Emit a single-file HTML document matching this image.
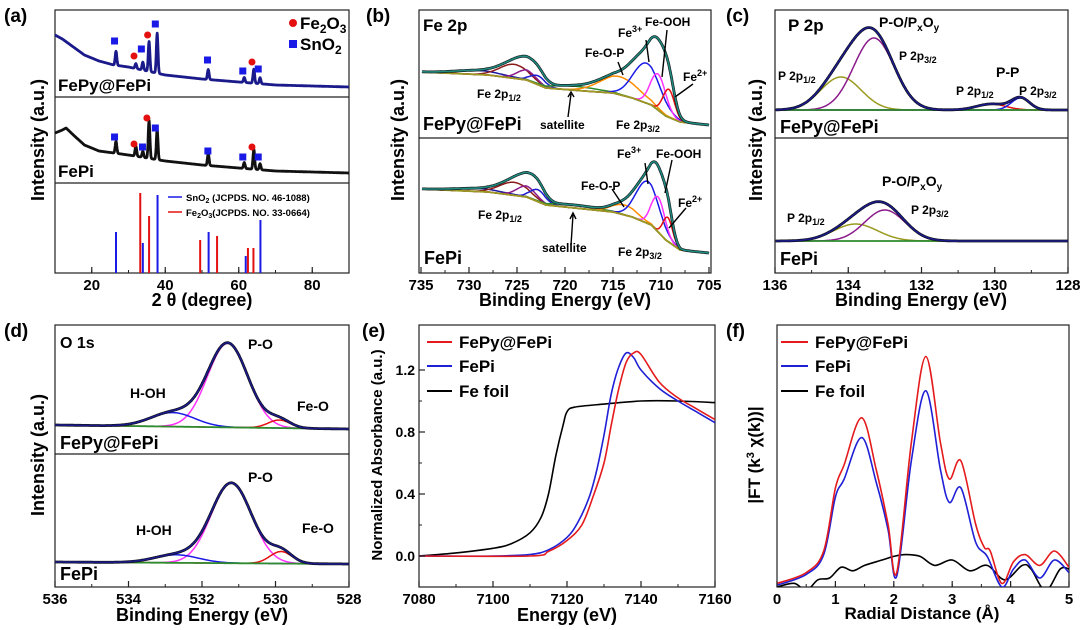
<!DOCTYPE html>
<html><head><meta charset="utf-8"><style>
html,body{margin:0;padding:0;background:#fff}
svg{display:block;font-family:"Liberation Sans",sans-serif;font-weight:bold}
</style></head><body>
<svg id="fig" width="1080" height="630" viewBox="0 0 1080 630">
<rect width="1080" height="630" fill="#fff"/>
<g font-size="19">
<text x="4" y="22">(a)</text>
<text x="366" y="22">(b)</text>
<text x="726" y="22">(c)</text>
<text x="4" y="337">(d)</text>
<text x="362" y="337">(e)</text>
<text x="726" y="337">(f)</text>
</g>
<g fill="none" stroke="#222" stroke-width="1.2">
<rect x="55" y="10" width="294" height="263"/>
<line x1="55" y1="97" x2="349" y2="97"/>
<line x1="55" y1="183" x2="349" y2="183"/>
<rect x="419" y="10" width="292" height="263"/>
<line x1="419" y1="138" x2="711" y2="138"/>
<rect x="775" y="10" width="293" height="263"/>
<line x1="775" y1="138" x2="1068" y2="138"/>
<rect x="55" y="325" width="294" height="262"/>
<line x1="55" y1="454" x2="349" y2="454"/>
<rect x="419" y="325" width="296" height="262"/>
<rect x="777" y="325" width="292" height="262"/>
</g>
<g id="marks"></g>
<g font-size="18" text-anchor="middle">
<text x="202" y="306">2 θ (degree)</text>
<text x="565" y="306">Binding Energy (eV)</text>
<text x="921" y="306">Binding Energy (eV)</text>
<text x="202" y="621">Binding Energy (eV)</text>
<text x="567" y="621">Energy (eV)</text>
<text x="922" y="619" font-size="17">Radial Distance (Å)</text>
<text transform="translate(44,140) rotate(-90)">Intensity (a.u.)</text>
<text transform="translate(404,140) rotate(-90)">Intensity (a.u.)</text>
<text transform="translate(762,140) rotate(-90)">Intensity (a.u.)</text>
<text transform="translate(44,455) rotate(-90)">Intensity (a.u.)</text>
<text transform="translate(382,455) rotate(-90)" font-size="15">Normalized Absorbance (a.u.)</text>
<text transform="translate(760,455) rotate(-90)" font-size="17">|FT (k<tspan font-size="11" dy="-6">3</tspan><tspan dy="6"> χ(k))|</tspan></text>
</g>
<g font-size="17">
<text x="58" y="91">FePy@FePi</text>
<text x="58" y="177">FePi</text>
<circle cx="293" cy="23" r="4" fill="#e41010"/>
<text x="300" y="29">Fe<tspan font-size="12" dy="4">2</tspan><tspan dy="-4">O</tspan><tspan font-size="12" dy="4">3</tspan></text>
<rect x="289" y="40" width="8" height="8" fill="#1a1ae6"/>
<text x="300" y="50">SnO<tspan font-size="12" dy="4">2</tspan></text>
</g>
<g font-size="9.5">
<line x1="168" y1="197" x2="182" y2="197" stroke="#1a1ae6" stroke-width="1.5"/>
<text x="186" y="201">SnO<tspan font-size="7" dy="2">2</tspan><tspan dy="-2"> (JCPDS. NO. 46-1088)</tspan></text>
<line x1="168" y1="212" x2="182" y2="212" stroke="#e41010" stroke-width="1.5"/>
<text x="186" y="216">Fe<tspan font-size="7" dy="2">2</tspan><tspan dy="-2">O</tspan><tspan font-size="7" dy="2">3</tspan><tspan dy="-2">(JCPDS. NO. 33-0664)</tspan></text>
</g>
<g font-size="12">
<text x="423" y="31" font-size="17">Fe 2p</text>
<text x="423" y="130" font-size="18">FePy@FePi</text>
<text x="424" y="264" font-size="18">FePi</text>
<text x="477" y="98">Fe 2p<tspan font-size="9" dy="3">1/2</tspan></text>
<text x="540" y="129">satellite</text>
<text x="616" y="129">Fe 2p<tspan font-size="9" dy="3">3/2</tspan></text>
<text x="585" y="57">Fe-O-P</text>
<text x="618" y="37">Fe<tspan font-size="9" dy="-5">3+</tspan></text>
<text x="645" y="26">Fe-OOH</text>
<text x="683" y="81">Fe<tspan font-size="9" dy="-5">2+</tspan></text>
<text x="478" y="219">Fe 2p<tspan font-size="9" dy="3">1/2</tspan></text>
<text x="542" y="252">satellite</text>
<text x="618" y="256">Fe 2p<tspan font-size="9" dy="3">3/2</tspan></text>
<text x="581" y="190">Fe-O-P</text>
<text x="617" y="158">Fe<tspan font-size="9" dy="-5">3+</tspan></text>
<text x="656" y="158">Fe-OOH</text>
<text x="678" y="207">Fe<tspan font-size="9" dy="-5">2+</tspan></text>
</g>
<g stroke="#000" stroke-width="1.4" fill="none">
<path d="M568,117 L571,94 M568,97 L571,92 L574,97"/>
<path d="M618,62 L623,75"/><path d="M646,40 L649,62"/><path d="M667,30 L662,77"/><path d="M693,84 L675,97"/>
<path d="M571,245 L573,215 M570,219 L573,213 L576,219"/>
<path d="M612,189 L624,207"/><path d="M645,163 L648,184"/><path d="M672,160 L665,193"/><path d="M686,208 L669,228"/>
</g>
<g font-size="12">
<text x="788" y="31" font-size="17">P 2p</text>
<text x="879" y="27" font-size="14">P-O/P<tspan font-size="10" dy="4">x</tspan><tspan dy="-4">O</tspan><tspan font-size="10" dy="4">y</tspan></text>
<text x="899" y="60">P 2p<tspan font-size="9" dy="3">3/2</tspan></text>
<text x="778" y="80">P 2p<tspan font-size="9" dy="3">1/2</tspan></text>
<text x="996" y="77" font-size="14">P-P</text>
<text x="956" y="95">P 2p<tspan font-size="9" dy="3">1/2</tspan></text>
<text x="1019" y="95">P 2p<tspan font-size="9" dy="3">3/2</tspan></text>
<text x="780" y="133" font-size="18">FePy@FePi</text>
<text x="882" y="186" font-size="14">P-O/P<tspan font-size="10" dy="4">x</tspan><tspan dy="-4">O</tspan><tspan font-size="10" dy="4">y</tspan></text>
<text x="911" y="214">P 2p<tspan font-size="9" dy="3">3/2</tspan></text>
<text x="787" y="222">P 2p<tspan font-size="9" dy="3">1/2</tspan></text>
<text x="780" y="265" font-size="18">FePi</text>
</g>
<g font-size="14">
<text x="60" y="348" font-size="16">O 1s</text>
<text x="248" y="349">P-O</text>
<text x="130" y="398">H-OH</text>
<text x="297" y="411">Fe-O</text>
<text x="60" y="449" font-size="18">FePy@FePi</text>
<text x="248" y="482">P-O</text>
<text x="136" y="535">H-OH</text>
<text x="302" y="533">Fe-O</text>
<text x="60" y="580" font-size="18">FePi</text>
</g>
<g font-size="17">
<line x1="427" y1="342" x2="452" y2="342" stroke="#e41a1c" stroke-width="2"/>
<text x="459" y="348">FePy@FePi</text>
<line x1="427" y1="366" x2="452" y2="366" stroke="#1f1fd6" stroke-width="2"/>
<text x="459" y="372">FePi</text>
<line x1="427" y1="391" x2="452" y2="391" stroke="#000" stroke-width="2"/>
<text x="459" y="397">Fe foil</text>
<line x1="781" y1="342" x2="808" y2="342" stroke="#e41a1c" stroke-width="2"/>
<text x="815" y="348">FePy@FePi</text>
<line x1="781" y1="366" x2="808" y2="366" stroke="#1f1fd6" stroke-width="2"/>
<text x="815" y="372">FePi</text>
<line x1="781" y1="391" x2="808" y2="391" stroke="#000" stroke-width="2"/>
<text x="815" y="397">Fe foil</text>
</g>
</svg>
<script>
// (a) XRD
const xrdTopBase=[[10,62],[12,58],[15,50],[18,42],[22,36],[26,32],[30,30],[35,26],[40,22],[45,20],[50,18],[60,15],[70,12],[80,11],[90,10]];
const xrdTopPeaks=[[26.6,14],[32,5],[33.9,8],[35.6,30],[37.8,40],[51.7,10],[61.5,5],[64.1,14],[65.8,6]];
const xrdMidBase=[[10,50],[12,53],[13,55],[15,48],[18,38],[22,32],[30,28],[40,22],[50,18],[60,15],[70,12],[90,10]];
const xrdMidPeaks=[[26.6,12],[32,10],[33.9,6],[35.6,38],[37.8,30],[51.7,12],[61.5,6],[64.1,20],[65.8,6]];
const topCircles=[[31.5,56],[35.2,35],[63.6,62]];
const topSquares=[[26.2,41],[33.5,49],[37.3,24],[51.5,60],[61.1,71],[65.3,69]];
const midCircles=[[31.5,144],[35.0,118],[63.6,147]];
const midSquares=[[26.2,137],[33.8,147],[37.3,128],[51.6,151],[61.1,157],[65.3,157]];
const sno2Ref=[[26.6,41],[33.9,30],[37.9,78],[51.8,41],[61.9,17],[65.9,53]];
const fe2o3Ref=[[33.2,80],[35.6,57],[49.5,33],[54.1,37],[62.5,25],[64.0,25]];
// (b) Fe 2p
const feTopBase=[[735,66],[728,63],[724,58],[722,50],[718,47],[715,45],[713,40],[711,33],[709.5,22],[708,16],[705,13]];
const feBotBase=[[735,83],[728,80],[724,75],[722,67],[718,63],[715,60],[713,55],[711,47],[709.5,32],[708,22],[705,19]];
const feTopComps=[[729,4,2.5,'#1a1aa0'],[725.3,14,1.5,'#8b1a1a'],[724,10,1,'#8b1a8b'],[722.8,9,0.8,'#1a1ad0'],[719,4,2.5,'#2e8b2e'],[714.3,18,2,'#ff8c00'],[711.5,40,1.4,'#1a1ae6'],[710.3,36,0.8,'#ff30ff'],[709.2,28,0.6,'#e41010']];
const feBotComps=[[729,3,2.5,'#1a1aa0'],[725.3,13,1.5,'#8b1a1a'],[724,11,1,'#8b1a8b'],[722.8,12,0.8,'#1a1ad0'],[719,3,2.5,'#2e8b2e'],[713.8,10,1.3,'#ff8c00'],[711.4,42,1.2,'#1a1ae6'],[710.3,35,0.7,'#ff30ff'],[709.3,24,0.5,'#e41010']];
// (c) P 2p
const pTopComps=[[134.2,33,0.55,'#9a9a20'],[133.3,72,0.55,'#8b1a8b'],[130.1,6,0.4,'#e41010'],[129.3,12,0.25,'#1a1ae6']];
const pBotComps=[[133.8,17,0.6,'#9a9a20'],[133.0,31,0.55,'#8b1a8b']];
// (d) O 1s
const oTopComps=[[531.3,84,0.55,'#ff30ff'],[532.8,14,0.6,'#1a1ae6'],[529.9,8,0.3,'#e41010']];
const oBotComps=[[531.2,80,0.55,'#ff30ff'],[532.7,8,0.6,'#1a1ae6'],[529.85,12,0.3,'#e41010']];
// (e) XANES
const eFoil=[[7080,0],[7090,0.02],[7100,0.05],[7105,0.08],[7110,0.15],[7113,0.25],[7115,0.40],[7117,0.65],[7119,0.85],[7120,0.93],[7122,0.96],[7130,0.98],[7140,1.0],[7150,1.0],[7160,0.99]];
const eFePi=[[7080,0],[7100,0],[7110,0.01],[7115,0.04],[7120,0.12],[7123,0.22],[7126,0.38],[7128,0.55],[7130,0.78],[7132,1.05],[7134,1.22],[7136,1.31],[7138,1.28],[7140,1.2],[7145,1.08],[7150,1.0],[7155,0.93],[7160,0.86]];
const eFePy=[[7080,0],[7110,0],[7115,0.03],[7120,0.1],[7124,0.2],[7127,0.38],[7130,0.6],[7132,0.85],[7134,1.08],[7136,1.25],[7138,1.31],[7140,1.3],[7145,1.12],[7150,1.02],[7155,0.95],[7160,0.88]];
const eTicksY=[0,0.4,0.8,1.2];
const eTicksX=[7080,7100,7120,7140,7160];
// (f) EXAFS
const fFePy=[[0,0.02],[0.5,0.08],[0.8,0.2],[1.0,0.55],[1.15,0.68],[1.45,0.94],[1.7,0.65],[1.9,0.35],[2.05,0.08],[2.3,0.8],[2.55,1.28],[2.8,0.8],[2.95,0.6],[3.15,0.7],[3.4,0.35],[3.55,0.22],[3.65,0.2],[3.85,0.02],[4.05,0.14],[4.25,0.18],[4.5,0.12],[4.75,0.2],[5,0.11]];
const fFePi=[[0,0.01],[0.5,0.07],[0.8,0.18],[1.0,0.5],[1.15,0.6],[1.45,0.83],[1.7,0.58],[1.9,0.32],[2.05,0.06],[2.3,0.7],[2.55,1.09],[2.8,0.65],[2.95,0.47],[3.15,0.55],[3.4,0.25],[3.6,0.17],[3.85,0.0],[4.05,0.1],[4.25,0.15],[4.5,0.05],[4.75,0.15],[5,0.08]];
const fFoil=[[0,0.0],[0.3,0.02],[0.5,-0.02],[0.7,0.04],[0.9,0.05],[1.1,0.11],[1.3,0.09],[1.5,0.12],[1.8,0.15],[2.0,0.17],[2.2,0.18],[2.45,0.17],[2.7,0.12],[3.0,0.15],[3.3,0.09],[3.6,0.12],[3.9,0.04],[4.2,0.12],[4.35,0.1],[4.6,-0.02],[4.85,0.1],[5,0.1]];
const fTicksX=[0,1,2,3,4,5];

const NS='http://www.w3.org/2000/svg';
const G=document.getElementById('marks');
function mk(tag,attrs){const e=document.createElementNS(NS,tag);for(const k in attrs)e.setAttribute(k,attrs[k]);G.appendChild(e);return e;}
function nm(e,n){


}
function lin(d0,d1,p0,p1){return v=>p0+(v-d0)*(p1-p0)/(d1-d0);}
function interp(pts,x){const s=pts[0][0]<pts[pts.length-1][0]?pts:pts.slice().reverse();
 if(x<=s[0][0])return s[0][1];for(let i=1;i<s.length;i++){if(x<=s[i][0]){const t=(x-s[i-1][0])/(s[i][0]-s[i-1][0]);return s[i-1][1]+t*(s[i][1]-s[i-1][1]);}}return s[s.length-1][1];}
function gauss(x,c,h,w){return h*Math.exp(-(x-c)*(x-c)/(2*w*w));}
function poly(pts,col,sw,name){const e=mk('polyline',{points:pts.map(p=>p[0].toFixed(1)+','+p[1].toFixed(1)).join(' '),fill:'none',stroke:col,'stroke-width':sw,'stroke-linejoin':'round'});nm(e,name);return e;}
function spline(pts,col,sw,name){let d='M'+pts[0][0]+','+pts[0][1];
 for(let i=0;i<pts.length-1;i++){const p0=pts[Math.max(i-1,0)],p1=pts[i],p2=pts[i+1],p3=pts[Math.min(i+2,pts.length-1)];
 d+=' C'+(p1[0]+(p2[0]-p0[0])/6).toFixed(1)+','+(p1[1]+(p2[1]-p0[1])/6).toFixed(1)+' '+(p2[0]-(p3[0]-p1[0])/6).toFixed(1)+','+(p2[1]-(p3[1]-p1[1])/6).toFixed(1)+' '+p2[0].toFixed(1)+','+p2[1].toFixed(1);}
 const e=mk('path',{d:d,fill:'none',stroke:col,'stroke-width':sw});nm(e,name);return e;}
function xticks(X,majors,minors,yb,fmt,prefix){
 minors.forEach(v=>{const e=mk('line',{x1:X(v),x2:X(v),y1:yb,y2:yb-3,stroke:'#222','stroke-width':1});nm(e,prefix+'-minor-tick');});
 majors.forEach(v=>{const e=mk('line',{x1:X(v),x2:X(v),y1:yb,y2:yb-6,stroke:'#222','stroke-width':1.2});nm(e,prefix+'-tick');
 const t=mk('text',{x:X(v),y:yb+17,'text-anchor':'middle','font-size':15});t.textContent=fmt(v);nm(t,prefix+'-tick-label');});}
function range(a,b,s){const r=[];for(let v=a;v<=b+1e-9;v+=s)r.push(+v.toFixed(3));return r;}

const XA=lin(10,90,55,349);
function xrd(base,peaks,yb,col,name){const pts=[];for(let x=10;x<=90;x+=0.1){let v=interp(base,x);peaks.forEach(p=>v+=gauss(x,p[0],p[1],0.22));pts.push([XA(x),yb-v]);}poly(pts,col,2.8,name);}
xrd(xrdTopBase,xrdTopPeaks,97,'#1a1a8a','xrd-fepy-fepi');
xrd(xrdMidBase,xrdMidPeaks,183,'#111','xrd-fepi');
[topCircles,midCircles].forEach(arr=>arr.forEach(p=>{const e=mk('circle',{cx:XA(p[0]),cy:p[1],r:3.5,fill:'#e41010'});nm(e,'fe2o3-marker');}));
[topSquares,midSquares].forEach(arr=>arr.forEach(p=>{const e=mk('rect',{x:XA(p[0])-3.5,y:p[1]-3.5,width:7,height:7,fill:'#1a1ae6'});nm(e,'sno2-marker');}));
sno2Ref.forEach(p=>{const e=mk('line',{x1:XA(p[0]),x2:XA(p[0]),y1:273,y2:273-p[1],stroke:'#1a1ae6','stroke-width':2});nm(e,'sno2-ref-stick');});
fe2o3Ref.forEach(p=>{const e=mk('line',{x1:XA(p[0]),x2:XA(p[0]),y1:273,y2:273-p[1],stroke:'#e41010','stroke-width':2});nm(e,'fe2o3-ref-stick');});
xticks(XA,[20,40,60,80],range(10,90,10),273,v=>v,'a-x');

function xps(X,lo,hi,step,base,comps,yb,envCol,name,baseCol){
 const bl=x=>typeof base==='function'?base(x):interp(base,x);
 comps.forEach((c,i)=>{const pts=[];for(let x=lo;x<=hi;x+=step)pts.push([X(x),yb-bl(x)-gauss(x,c[0],c[1],c[2])]);poly(pts,c[3],1.5,name+'-component-'+i);});
 const bp=[];for(let x=lo;x<=hi;x+=step)bp.push([X(x),yb-bl(x)]);poly(bp,baseCol,1.8,name+'-background');
 const ep=[];for(let x=lo;x<=hi;x+=step){let v=bl(x);comps.forEach(c=>v+=gauss(x,c[0],c[1],c[2]));ep.push([X(x),yb-v]);}
 poly(ep,'#111',2.8,name+'-raw');poly(ep,envCol,1.6,name+'-envelope');}
const XB=lin(735,705,421,709);
xps(XB,705,735,0.1,feTopBase,feTopComps,138,'#1f8a80','fe2p-fepy','#9a9a20');
xps(XB,705,735,0.1,feBotBase,feBotComps,272,'#1f8a80','fe2p-fepi','#9a9a20');
xticks(XB,range(705,735,5),range(705,735,2.5),273,v=>v,'b-x');
const XC=lin(136,128,775,1068);
xps(XC,128,136,0.02,x=>0,pTopComps,110,'#1a1a8a','p2p-fepy','#2e8b2e');
xps(XC,128,136,0.02,x=>0,pBotComps,241,'#1a1a8a','p2p-fepi','#2e8b2e');
xticks(XC,range(128,136,2),range(128,136,1),273,v=>v,'c-x');
const XD=lin(536,528,55,349);
xps(XD,528,536,0.02,x=>(x-528)*0.5,oTopComps,429,'#1a1a8a','o1s-fepy','#2e8b2e');
xps(XD,528,536,0.02,x=>(x-528)*0.25,oBotComps,564,'#1a1a8a','o1s-fepi','#2e8b2e');
xticks(XD,range(528,536,2),range(528,536,1),587,v=>v,'d-x');

const XE=lin(7080,7160,419,715), YE=lin(0,1.2,556,370);
spline(eFoil.map(p=>[XE(p[0]),YE(p[1])]),'#000',1.6,'xanes-fe-foil');
spline(eFePi.map(p=>[XE(p[0]),YE(p[1])]),'#1f1fd6',1.6,'xanes-fepi');
spline(eFePy.map(p=>[XE(p[0]),YE(p[1])]),'#e41a1c',1.6,'xanes-fepy-fepi');
xticks(XE,eTicksX,range(7080,7160,10),587,v=>v,'e-x');
eTicksY.forEach(v=>{const l=mk('line',{x1:419,x2:425,y1:YE(v),y2:YE(v),stroke:'#222','stroke-width':1.2});nm(l,'e-y-tick');
 const t=mk('text',{x:415,y:YE(v)+5,'text-anchor':'end','font-size':14});t.textContent=v.toFixed(1);nm(t,'e-y-tick-label');});
[0.2,0.6,1.0].forEach(v=>{const l=mk('line',{x1:419,x2:422,y1:YE(v),y2:YE(v),stroke:'#222'});nm(l,'e-y-minor-tick');});

const XF=lin(0,5,777,1069);
const cp=mk('clipPath',{id:'cf'});const cr=document.createElementNS(NS,'rect');cr.setAttribute('x',777);cr.setAttribute('y',325);cr.setAttribute('width',292);cr.setAttribute('height',262);cp.appendChild(cr);
const fg=mk('g',{'clip-path':'url(#cf)'});nm(fg,'exafs-plot-area');
[[fFoil,'#000','exafs-fe-foil'],[fFePi,'#1f1fd6','exafs-fepi'],[fFePy,'#e41a1c','exafs-fepy-fepi']].forEach(([d,c,n])=>{const e=spline(d.map(p=>[XF(p[0]),587-p[1]*180]),c,1.6,n);fg.appendChild(e);});
xticks(XF,fTicksX,range(0,5,0.5),587,v=>v,'f-x');
</script>
</body></html>
